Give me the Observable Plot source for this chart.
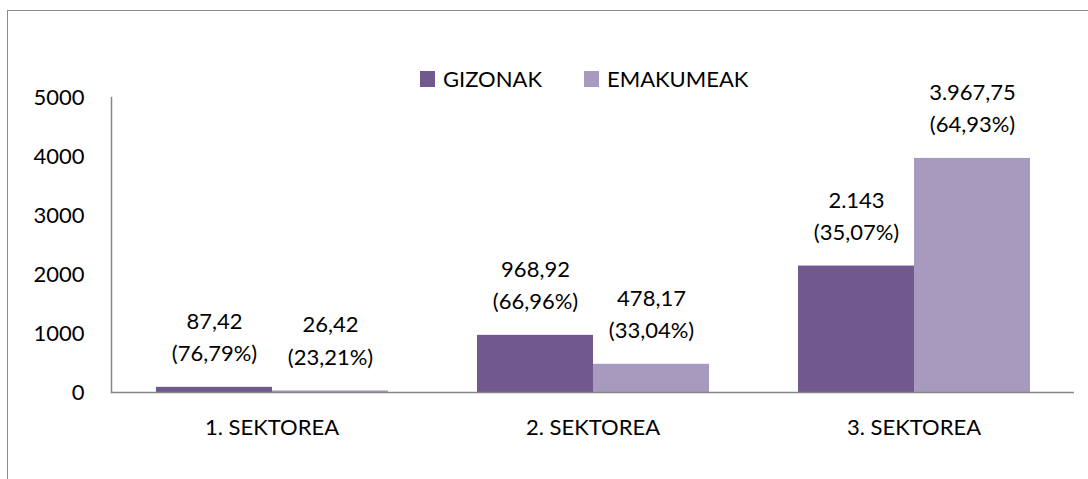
<!DOCTYPE html>
<html>
<head>
<meta charset="utf-8">
<script src="https://cdn.jsdelivr.net/npm/d3@7"></script>
<script src="https://cdn.jsdelivr.net/npm/@observablehq/plot@0.6"></script>
<style>
  html, body { margin: 0; padding: 0; background: #fff; }
  #wrap { position: relative; width: 1088px; height: 479px; overflow: hidden; font-family: Lato, sans-serif; }
  #border { position: absolute; left: 7px; top: 10px; width: 1200px; height: 600px; border: 1.5px solid #8c8c8c; box-sizing: border-box; }
  #legend { position: absolute; left: 420px; top: 68px; display: flex; align-items: center; font-size: 22px; color: #000; line-height: 22px; }
  .sw { display: inline-block; width: 15px; height: 16px; margin-right: 8px; }
  .item { display: flex; align-items: center; margin-right: 42px; }
  svg { position: absolute; left: 0; top: 0; }
</style>
</head>
<body>
<div id="wrap">
  <div id="border"></div>
  <div id="chart"></div>
  <div id="legend"></div>
</div>
<script>
const categories = ["1. SEKTOREA", "2. SEKTOREA", "3. SEKTOREA"];
const series = ["GIZONAK", "EMAKUMEAK"];
const gizonak = [87.42, 968.92, 2143];
const emakumeak = [26.42, 478.17, 3967.75];
const gizonakLabels = ["87,42\n(76,79%)", "968,92\n(66,96%)", "2.143\n(35,07%)"];
const emakumeakLabels = ["26,42\n(23,21%)", "478,17\n(33,04%)", "3.967,75\n(64,93%)"];
const yTicks = [0, 1000, 2000, 3000, 4000, 5000];
const colors = ["#72598D", "#A89ABE"];

const data = [];
categories.forEach((c, i) => {
  data.push({category: c, series: series[0], value: gizonak[i], label: gizonakLabels[i]});
  data.push({category: c, series: series[1], value: emakumeak[i], label: emakumeakLabels[i]});
});

const chart = Plot.plot({
  width: 1088,
  height: 479,
  marginLeft: 110,
  marginRight: 13,
  marginTop: 97,
  marginBottom: 87,
  style: {fontFamily: "Lato, sans-serif", fontSize: "22px", color: "#000", background: "transparent", overflow: "visible"},
  fx: {domain: categories, padding: 0, label: null},
  x: {domain: series, paddingInner: 0, paddingOuter: 0.375, axis: null},
  y: {domain: [0, 5000], label: null},
  color: {domain: series, range: colors},
  marks: [
    Plot.barY(data, {fx: "category", x: "series", y: "value", fill: "series", inset: 0}),
    Plot.ruleY([0], {stroke: "#868686", strokeWidth: 1.5}),
    Plot.frame({anchor: "left", facetAnchor: "left", stroke: "#868686", strokeWidth: 1.5}),
    Plot.axisY({ticks: yTicks, tickSize: 0, tickPadding: 27, tickFormat: d => String(d), label: null, fill: "#000"}),
    Plot.axisFx({anchor: "bottom", tickSize: 0, tickPadding: 27, label: null, fill: "#000"}),
    Plot.text(data, {fx: "category", x: "series", y: "value", text: "label", lineAnchor: "bottom", lineHeight: 1.48, dy: -26, fill: "#000"})
  ]
});
document.getElementById("chart").appendChild(chart);

const legend = document.getElementById("legend");
series.forEach((s, i) => {
  const item = document.createElement("div");
  item.className = "item";
  const sw = document.createElement("span");
  sw.className = "sw";
  sw.style.background = colors[i];
  const t = document.createElement("span");
  t.textContent = s;
  item.appendChild(sw);
  item.appendChild(t);
  legend.appendChild(item);
});
</script>
</body>
</html>
